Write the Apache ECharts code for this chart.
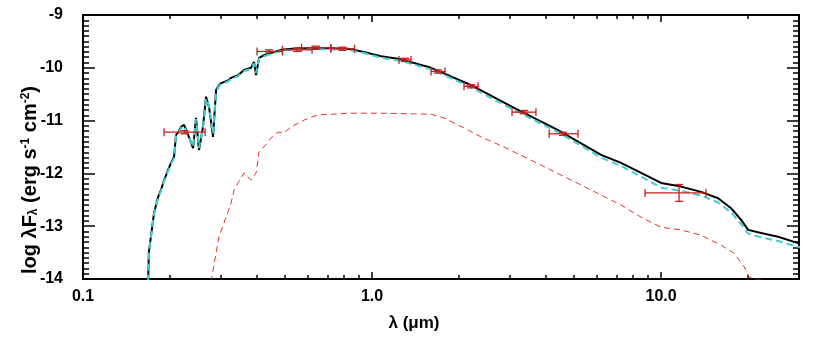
<!DOCTYPE html>
<html>
<head>
<meta charset="utf-8">
<title>SED</title>
<script src="https://cdn.jsdelivr.net/npm/echarts@6/dist/echarts.min.js"></script>
<style>
  html, body { margin: 0; padding: 0; background: #fff; }
  #chart { width: 830px; height: 354px; }
</style>
</head>
<body>
<div id="chart"></div>
<script>
// model wavelengths (micron) for the total (black) and photosphere (cyan) curves
var modelWave = [0.168, 0.169, 0.1761, 0.1818, 0.1862, 0.1907, 0.1969, 0.2016, 0.2065, 0.2098,
  0.2132, 0.2184, 0.2237, 0.231, 0.2404, 0.246, 0.252, 0.2601, 0.2664, 0.2729,
  0.2818, 0.2886, 0.2956, 0.3003, 0.3176, 0.3252, 0.3439, 0.3607, 0.3814, 0.3907,
  0.397, 0.4064, 0.4229, 0.4472, 0.4843, 0.5546, 0.63, 0.7214, 0.826, 0.9383,
  1.074, 1.26, 1.6, 1.832, 2.201, 3.099, 4.401, 6.2, 7.27, 8.527,
  10.0, 11.73, 13.75, 15.75, 17.47, 18.92, 20.0, 22.18, 25.4, 29.79, 31.0];
var totalFlux = [-14.05, -13.49, -12.75, -12.45, -12.31, -12.13, -11.94, -11.80, -11.69, -11.27,
  -11.23, -11.12, -11.08, -11.27, -11.52, -10.95, -11.56, -11.12, -10.55, -10.74,
  -11.31, -10.42, -10.33, -10.29, -10.24, -10.19, -10.14, -10.04, -10.00, -9.89,
  -10.14, -9.81, -9.76, -9.72, -9.66, -9.63, -9.63, -9.63, -9.64, -9.70,
  -9.78, -9.84, -10.00, -10.14, -10.33, -10.76, -11.18, -11.65, -11.80, -11.99,
  -12.18, -12.25, -12.35, -12.47, -12.66, -12.88, -13.07, -13.13, -13.20, -13.32, -13.35];
var photFlux = [-14.05, -13.50, -12.77, -12.47, -12.33, -12.15, -11.96, -11.82, -11.71, -11.29,
  -11.25, -11.14, -11.10, -11.29, -11.50, -10.97, -11.52, -11.14, -10.58, -10.72,
  -11.25, -10.45, -10.35, -10.31, -10.26, -10.21, -10.16, -10.06, -10.02, -9.92,
  -10.10, -9.83, -9.78, -9.74, -9.68, -9.65, -9.65, -9.65, -9.66, -9.72,
  -9.81, -9.87, -10.03, -10.17, -10.37, -10.80, -11.22, -11.70, -11.86, -12.06,
  -12.27, -12.33, -12.42, -12.55, -12.74, -12.96, -13.14, -13.21, -13.28, -13.39, -13.42];

// cool component (red dashed)
var dustWave = [0.2773, 0.2886, 0.2956, 0.3126, 0.3252, 0.3331, 0.3607, 0.3814, 0.397, 0.4064,
  0.4229, 0.4472, 0.4728, 0.4961, 0.5246, 0.5817, 0.6505, 0.7214, 0.826, 1.074,
  1.6, 1.774, 2.082, 2.384, 2.862, 3.549, 4.508, 6.2, 7.27, 8.527,
  10.0, 11.73, 13.75, 16.13, 17.89, 19.38, 20.16, 21.3, 24.0];
var dustFlux = [-14.05, -13.51, -13.20, -12.83, -12.56, -12.31, -11.99, -12.13, -11.99, -11.59,
  -11.50, -11.33, -11.22, -11.23, -11.12, -10.99, -10.89, -10.88, -10.86, -10.86,
  -10.88, -10.95, -11.14, -11.31, -11.50, -11.75, -12.03, -12.41, -12.60, -12.83,
  -13.02, -13.07, -13.17, -13.36, -13.51, -13.77, -13.96, -14.0, -14.05];

// photometry with error bars
var obsWave   = [0.2245, 0.44, 0.55, 0.64, 0.79, 1.30, 1.69, 2.20, 3.36, 4.58, 11.54];
var obsWaveLo = [0.1907, 0.40, 0.49, 0.57, 0.72, 1.24, 1.60, 2.08, 3.05, 4.10, 8.80];
var obsWaveHi = [0.2644, 0.49, 0.62, 0.72, 0.87, 1.364, 1.789, 2.327, 3.69, 5.16, 14.31];
var obsFlux   = [-11.22, -9.69, -9.66, -9.62, -9.64, -9.85, -10.07, -10.35, -10.84, -11.25, -12.37];
var obsErr    = [0.03, 0.03, 0.03, 0.03, 0.03, 0.03, 0.03, 0.03, 0.03, 0.03, 0.16];

var xMajorTicks = [0.1, 1, 10];
var xMajorLabels = ['0.1', '1.0', '10.0'];
var xMinorTicks = [0.2, 0.3, 0.4, 0.5, 0.6, 0.7, 0.8, 0.9, 2, 3, 4, 5, 6, 7, 8, 9, 20];

var lg = Math.log10;
function pairs (wave, flux) {
    return wave.map(function (w, i) { return [lg(w), flux[i]] })
}

var chart = echarts.init(document.getElementById('chart'))
var labelFont = { fontFamily: 'Liberation Sans', fontWeight: 'bold', fontSize: 16, color: '#000' }

var majorVals = xMajorTicks.map(lg)
var minorVals = xMinorTicks.map(lg)
function xAxisDef (pos, vals, len, showLine, showLabel) {
    return {
        type: 'value', position: pos, min: -1, max: lg(30),
        splitLine: { show: false },
        axisLine: { show: showLine, onZero: false, lineStyle: { color: '#000', width: 2 } },
        axisTick: { show: true, inside: true, length: len, customValues: vals, lineStyle: { color: '#000', width: 1.5 } },
        axisLabel: Object.assign({
            show: showLabel, margin: 10, customValues: majorVals,
            formatter: function (v) {
                var i = majorVals.findIndex(function (m) { return Math.abs(m - v) < 1e-6 })
                return i >= 0 ? xMajorLabels[i] : ''
            }
        }, labelFont)
    }
}
function yAxisDef (pos, showLabel) {
    return {
        type: 'value', position: pos, min: -14, max: -9, interval: 1,
        splitLine: { show: false },
        axisLine: { show: true, onZero: false, lineStyle: { color: '#000', width: 2 } },
        axisTick: { show: true, inside: true, length: 12, lineStyle: { color: '#000', width: 1.5 } },
        minorTick: { show: true, splitNumber: 10, length: 6, lineStyle: { color: '#000', width: 1.5 } },
        axisLabel: Object.assign({ show: showLabel, margin: 20 }, labelFont)
    }
}

var option = {
    animation: false,
    grid: { left: 83, right: 31, top: 15, bottom: 75, containLabel: false },
    xAxis: [
        xAxisDef('bottom', majorVals, 7, true, true),
        xAxisDef('bottom', minorVals, 4, false, false),
        xAxisDef('top', majorVals, 7, true, false),
        xAxisDef('top', minorVals, 4, false, false)
    ],
    yAxis: [yAxisDef('left', true), yAxisDef('right', false)],
    graphic: [
        {
            type: 'text', x: 30, y: 180, rotation: Math.PI / 2,
            style: {
                text: 'log λF{sub|λ} (erg s{sup|-1} cm{sup|-2})',
                fontFamily: 'Liberation Sans', fontWeight: 'bold', fontSize: 20, fill: '#000',
                align: 'center', verticalAlign: 'middle',
                rich: {
                    sub: { fontSize: 12, fontWeight: 'bold', verticalAlign: 'bottom', padding: [7, 0, 0, 0] },
                    sup: { fontSize: 12, fontWeight: 'bold', verticalAlign: 'top', padding: [0, 0, 7, 0] }
                }
            }
        },
        {
            type: 'text', x: 414, y: 323,
            style: {
                text: 'λ (μm)', fontFamily: 'Liberation Sans', fontWeight: 'bold', fontSize: 17,
                fill: '#000', align: 'center', verticalAlign: 'middle'
            }
        }
    ],
    series: [
        {
            name: 'cool', type: 'line', xAxisIndex: 0, yAxisIndex: 0,
            data: pairs(dustWave, dustFlux), showSymbol: false, z: 2,
            lineStyle: { color: '#e3342f', width: 1, type: [6, 4] }
        },
        {
            name: 'total', type: 'line', xAxisIndex: 0, yAxisIndex: 0,
            data: pairs(modelWave, totalFlux), showSymbol: false, z: 3,
            lineStyle: { color: '#000', width: 2 }
        },
        {
            name: 'phot', type: 'line', xAxisIndex: 0, yAxisIndex: 0,
            data: pairs(modelWave, photFlux), showSymbol: false, z: 4,
            lineStyle: { color: '#3fd0d4', width: 2, type: [7, 4] }
        },
        {
            name: 'obs', type: 'custom', xAxisIndex: 0, yAxisIndex: 0, z: 5,
            data: obsWave.map(function (w, i) {
                return [lg(w), lg(obsWaveLo[i]), lg(obsWaveHi[i]), obsFlux[i], obsErr[i]]
            }),
            encode: { x: [0, 1, 2], y: 3 },
            renderItem: function (params, api) {
                var x = api.value(0), lo = api.value(1), hi = api.value(2)
                var y = api.value(3), e = api.value(4)
                var pl = api.coord([lo, y]), ph = api.coord([hi, y])
                var pt = api.coord([x, y + e]), pb = api.coord([x, y - e])
                var st = { stroke: '#c81e1e', lineWidth: 1.3 }
                var c = 4
                function seg (x1, y1, x2, y2) {
                    return { type: 'line', shape: { x1: x1, y1: y1, x2: x2, y2: y2 }, style: st }
                }
                return {
                    type: 'group',
                    children: [
                        seg(pl[0], pl[1], ph[0], ph[1]),
                        seg(pl[0], pl[1] - c, pl[0], pl[1] + c),
                        seg(ph[0], ph[1] - c, ph[0], ph[1] + c),
                        seg(pt[0], pt[1], pb[0], pb[1]),
                        seg(pt[0] - c, pt[1], pt[0] + c, pt[1]),
                        seg(pb[0] - c, pb[1], pb[0] + c, pb[1])
                    ]
                }
            }
        }
    ]
}
chart.setOption(option)
</script>
</body>
</html>
